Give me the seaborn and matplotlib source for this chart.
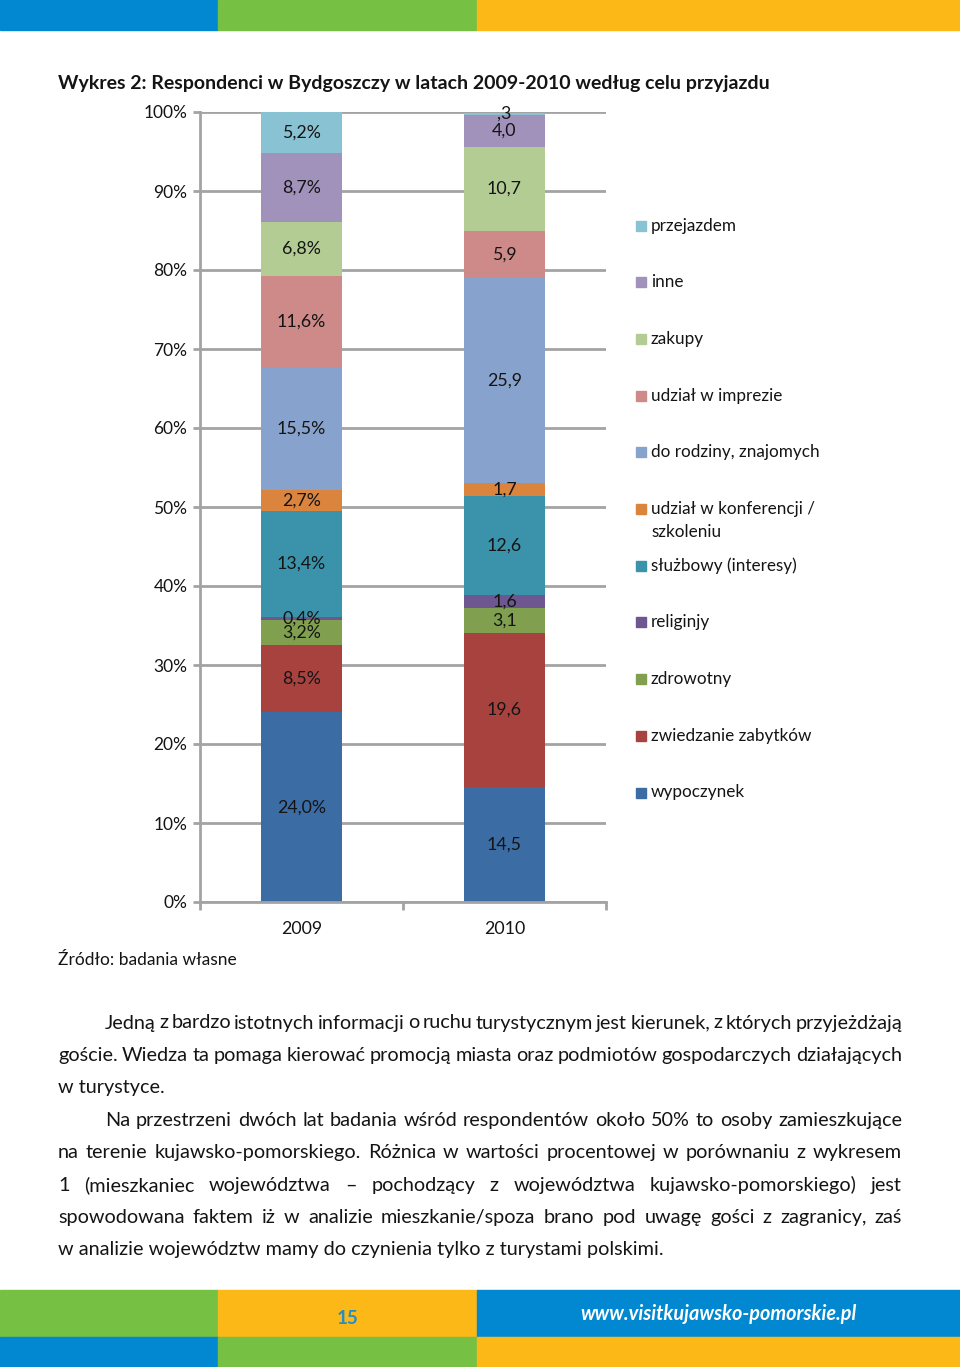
import matplotlib
matplotlib.use("Agg")
import matplotlib.pyplot as plt
import seaborn as sns
import numpy as np
from matplotlib.patches import Rectangle

# ---------------- data ----------------
years = ["2009", "2010"]
categories = ["wypoczynek", "zwiedzanie zabytków", "zdrowotny", "religinjy",
              "służbowy (interesy)", "udział w konferencji /\nszkoleniu",
              "do rodziny, znajomych", "udział w imprezie", "zakupy", "inne",
              "przejazdem"]
values_2009 = [24.0, 8.5, 3.2, 0.4, 13.4, 2.7, 15.5, 11.6, 6.8, 8.7, 5.2]
values_2010 = [14.5, 19.6, 3.1, 1.6, 12.6, 1.7, 25.9, 5.9, 10.7, 4.0, 0.3]
labels_2009 = ["24,0%", "8,5%", "3,2%", "0,4%", "13,4%", "2,7%", "15,5%",
               "11,6%", "6,8%", "8,7%", "5,2%"]
labels_2010 = ["14,5", "19,6", "3,1", "1,6", "12,6", "1,7", "25,9", "5,9",
               "10,7", "4,0", ",3"]
yticks = [0, 10, 20, 30, 40, 50, 60, 70, 80, 90, 100]
ytick_labels = ["0%", "10%", "20%", "30%", "40%", "50%", "60%", "70%", "80%",
                "90%", "100%"]

title = "Wykres 2: Respondenci w Bydgoszczy w latach 2009-2010 według celu przyjazdu"
source = "Źródło: badania własne"
paragraph_lines = [
    ("Jedną z bardzo istotnych informacji o ruchu turystycznym jest kierunek, z których przyjeżdżają", True, True),
    ("goście. Wiedza ta pomaga kierować promocją miasta oraz podmiotów gospodarczych działających", False, True),
    ("w turystyce.", False, False),
    ("Na przestrzeni dwóch lat badania wśród respondentów około 50% to osoby zamieszkujące", True, True),
    ("na terenie kujawsko-pomorskiego. Różnica w wartości procentowej w porównaniu z wykresem", False, True),
    ("1 (mieszkaniec województwa – pochodzący z województwa kujawsko-pomorskiego) jest", False, True),
    ("spowodowana faktem iż w analizie mieszkanie/spoza brano pod uwagę gości z zagranicy, zaś", False, True),
    ("w analizie województw mamy do czynienia tylko z turystami polskimi.", False, False),
]
page_number = "15"
url = "www.visitkujawsko-pomorskie.pl"

colors = ["#3C6CA4", "#A8423F", "#81A04F", "#6E5690", "#3A93AA", "#DB843D",
          "#87A2CC", "#CD8A89", "#B3CC93", "#A192BB", "#88C2D3"]

# ---------------- style ----------------
sns.set_style("white")
plt.rcParams["font.family"] = ["Lato", "DejaVu Sans"]
TXT = "#141414"
GRID = "#a3a3a3"

W, H = 960, 1367
fig = plt.figure(figsize=(W / 100, H / 100), dpi=100)

def fx(x):
    return x / W

def fy(y):
    return 1 - y / H

# banners
def band(x0, x1, y0, y1, c):
    fig.patches.append(Rectangle((fx(x0), fy(y1)), fx(x1 - x0), (y1 - y0) / H,
                                 transform=fig.transFigure, color=c, zorder=0))

BLUE, GREEN, YELLOW = "#0288D1", "#76C043", "#FBB817"
band(0, 218, 0, 30, BLUE)
band(218, 477, 0, 30, GREEN)
band(477, 960, 0, 30, YELLOW)
band(0, 218, 1290, 1337, GREEN)
band(218, 477, 1290, 1337, YELLOW)
band(477, 960, 1290, 1337, BLUE)
band(0, 218, 1337, 1367, BLUE)
band(218, 477, 1337, 1367, GREEN)
band(477, 960, 1337, 1367, YELLOW)

# ---------------- chart ----------------
ax = fig.add_axes([fx(200), fy(902), fx(606 - 200), (902 - 112) / H])

series = [values_2009, values_2010]
cum = np.cumsum(np.array(series), axis=1)  # shape (2, n)
n = len(categories)
for i in reversed(range(n)):
    sns.barplot(x=years, y=list(cum[:, i]), color=colors[i], width=0.395,
                saturation=1, linewidth=0, ax=ax, zorder=2)

for j, (vals, labs) in enumerate(zip(series, [labels_2009, labels_2010])):
    base = 0
    for v, lab in zip(vals, labs):
        ax.text(j, base + v / 2, lab, ha="center", va="center",
                fontsize=12.8, color=TXT, zorder=5)
        base += v

ax.set_xlim(-0.5, 1.5)
ax.set_ylim(0, 100)
ax.set_yticks(yticks)
ax.set_yticklabels(ytick_labels)
ax.set_xticks([0, 1])
ax.set_xticklabels(years)
ax.set_xticks([-0.5, 0.5, 1.5], minor=True)
ax.set_xlabel("")
ax.set_ylabel("")
ax.yaxis.grid(True, color=GRID, linewidth=2.0, zorder=0)
ax.set_axisbelow(True)
for s in ["top", "right"]:
    ax.spines[s].set_visible(False)
for s in ["left", "bottom"]:
    ax.spines[s].set_color(GRID)
    ax.spines[s].set_linewidth(2.0)
ax.tick_params(axis="y", which="major", length=5, width=2.0, color=GRID,
               labelsize=12.5, labelcolor=TXT, pad=4, left=True)
ax.tick_params(axis="x", which="major", length=0, labelsize=12.8,
               labelcolor=TXT, pad=14)
ax.tick_params(axis="x", which="minor", length=6, width=2.0, color=GRID,
               bottom=True)

# legend (drawn at fixed spacing, top entry = last series)
leg_y0, leg_dy = 225.5, 56.7
for k, i in enumerate(reversed(range(n))):
    y = leg_y0 + k * leg_dy
    fig.patches.append(Rectangle((fx(636), fy(y + 5)), fx(10), 10 / H,
                                 transform=fig.transFigure, color=colors[i]))
    lines = categories[i].split("\n")
    for m, line in enumerate(lines):
        fig.text(fx(651), fy(y + m * 23), line, ha="left", va="center",
                 fontsize=12.3, color=TXT)

# title & source
fig.text(fx(58), fy(84), title, ha="left", va="center", fontsize=14.0,
         fontweight="bold", color=TXT)
fig.text(fx(58), fy(960), source, ha="left", va="center", fontsize=12.5,
         color=TXT)

# paragraph text
renderer = fig.canvas.get_renderer()
PFS = 14.35
y = 1023
for text, indent, justify in paragraph_lines:
    x0 = 105 if indent else 58
    x1 = 902
    if not justify:
        fig.text(fx(x0), fy(y), text, ha="left", va="center", fontsize=PFS,
                 color=TXT)
    else:
        words = text.split(" ")
        objs = [fig.text(0, fy(y), w, ha="left", va="center", fontsize=PFS,
                         color=TXT) for w in words]
        widths = [o.get_window_extent(renderer).width for o in objs]
        gap = (x1 - x0 - sum(widths)) / (len(words) - 1)
        x = x0
        for o, wdt in zip(objs, widths):
            o.set_x(fx(x))
            x += wdt + gap
    y += 32.4

# footer
fig.text(fx(348), fy(1318), page_number, ha="center", va="center",
         fontsize=13.5, fontweight="bold", color="#2A8DC0")
fig.text(fx(718), fy(1314), url, ha="center", va="center", fontsize=14.3,
         fontweight="bold", fontstyle="italic", color="white")

fig.savefig("out.png", dpi=100)
